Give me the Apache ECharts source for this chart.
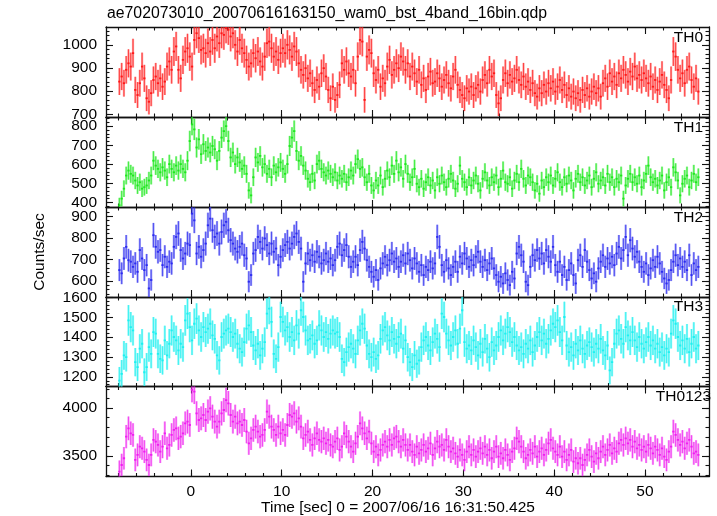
<!DOCTYPE html>
<html><head><meta charset="utf-8">
<script src="https://cdn.jsdelivr.net/npm/echarts@6/dist/echarts.min.js"></script>
<style>html,body{margin:0;padding:0;background:#fff}#c{width:717px;height:516px}</style>
</head><body><div id="c"></div>
<script>
// light-curve bins: start time and bin width (sec)
const binStart = -7.875, binWidth = 0.25;

const th0 = [
841,863,834,892,920,906,964,805,783,834,
906,855,769,754,791,848,863,834,855,819,
841,906,928,892,971,993,892,855,935,971,
985,949,906,1021,1050,1029,978,985,964,1007,
971,1021,985,1036,1007,1050,1043,1072,1065,1036,
1050,1000,971,1021,985,964,935,906,920,964,
942,971,928,906,949,1007,1014,985,949,971,
935,964,985,964,1000,978,949,993,971,920,
892,870,899,855,877,834,805,848,819,877,
899,863,805,769,819,762,783,827,920,892,
928,877,
863,892,834,949,1021,1014,762,
949,978,964,877,848,892,819,855,834,906,935,870,892,920,899,
949,928,892,920,863,906,877,841,892,827,855,805,863,884,834,
841,877,855,819,848,870,834,812,863,892,827,805,783,769,812,
798,819,783,812,827,798,848,870,834,892,863,877,783,747,769,
848,877,834,870,841,855,892,848,827,863,819,841,805,834,791,
776,812,791,827,798,834,812,841,798,819,848,805,827,783,812,
776,798,769,791,762,805,783,812,776,798,819,791,812,776,834,
855,819,877,841,863,827,877,855,892,870,841,884,863,906,855,
870,848,877,855,834,863,819,848,805,841,870,827,805,769,848,
971,949,892,855,877,834,892,906,848,819,855,798
];

const th1 = [
385,420,472,541,567,550,541,515,489,506,
472,480,489,515,541,619,593,576,558,584,
567,532,601,576,558,593,567,601,576,558,
619,722,809,783,688,731,653,705,670,688,
662,696,679,619,670,740,774,800,722,636,
662,601,636,610,576,593,550,463,437,532,
636,610,644,584,601,550,576,532,593,558,
584,610,576,550,601,696,740,774,670,619,
644,593,567,524,506,550,515,601,619,576,
558,541,567,550,532,558,515,541,524,550,
506,532,
567,541,601,627,576,584,532,506,550,489,
463,515,489,541,480,524,567,532,593,550,
619,558,584,524,601,550,506,532,576,498,
480,524,472,506,532,489,515,463,532,498,
541,506,480,524,550,515,472,498,593,524,
506,480,532,489,515,541,498,463,524,558,
515,489,532,506,541,480,524,567,506,498,
532,472,515,550,506,576,524,489,541,532,
506,463,498,446,515,480,532,506,541,489,
524,558,506,480,532,498,541,515,463,524,
550,506,532,489,515,541,480,524,558,498,
515,532,489,550,506,532,480,524,506,541,
420,489,524,550,506,532,498,541,480,515,
550,593,532,506,524,489,515,541,463,506,
532,480,584,558,515,437,498,524,541,480,
515,550,506,532
];

const th2 = [
650,635,704,758,696,689,665,681,642,743,
704,650,673,565,604,812,758,735,743,673,
712,665,689,681,758,804,820,743,704,727,
773,766,912,881,727,758,712,743,773,858,
889,835,804,820,773,827,858,874,835,789,
773,750,735,758,773,719,704,596,627,727,
743,804,781,750,797,766,727,773,735,750,
673,712,743,766,781,750,773,804,820,781,
750,596,681,727,696,719,689,735,712,681,
696,727,689,704,673,696,758,773,719,743,
766,712,
665,689,712,673,743,781,750,696,665,642,
619,650,604,658,681,712,673,696,727,689,
704,665,689,719,681,727,696,658,704,681,
642,673,627,665,650,689,658,681,804,758,
673,642,696,658,627,665,689,642,712,681,
727,704,665,696,673,712,735,689,665,696,
650,681,704,658,627,596,619,588,635,604,
580,642,611,727,758,719,689,596,580,665,
719,696,743,704,727,681,743,712,689,758,
673,642,689,627,665,604,650,681,627,588,
696,719,665,743,689,650,611,635,596,658,
689,719,665,704,681,712,673,727,758,704,
743,804,719,789,750,712,735,689,665,642,
681,627,658,696,665,712,681,642,611,588,
604,650,689,719,673,704,665,689,650,719,
627,681,650,665
];

const th3 = [
1181,1215,1308,1299,1485,1451,1434,1274,1249,1342,
1367,1223,1249,1350,1316,1426,1418,1316,1291,1283,
1384,1308,1367,1434,1401,1384,1333,1367,1350,1485,
1519,1451,1384,1468,1494,1434,1401,1451,1426,1443,
1468,1409,1392,1308,1283,1401,1418,1434,1443,1426,
1401,1418,1367,1342,1325,1375,1443,1460,1426,1358,
1333,1367,1308,1342,1375,1519,1544,1477,1316,1291,
1350,1502,1477,1434,1451,1401,1426,1384,1460,1418,
1536,1502,1434,1384,1392,1409,1367,1384,1460,1434,
1401,1426,1392,1418,1434,1418,1426,1401,1291,1274,
1325,1350,
1367,1342,1316,1384,1434,1468,1443,1358,1316,1299,
1325,1291,1308,1392,1434,1451,1409,1384,1426,1392,
1367,1401,1418,1342,1384,1299,1274,1249,1308,1266,
1283,1350,1384,1401,1358,1333,1375,1418,1392,1350,
1519,1502,1418,1384,1358,1401,1434,1367,1443,1536,
1375,1342,1358,1333,1384,1350,1308,1367,1325,1392,
1342,1299,1375,1333,1358,1401,1434,1384,1418,1451,
1426,1375,1401,1358,1333,1350,1316,1367,1342,1384,
1325,1358,1401,1426,1384,1418,1367,1392,1434,1468,
1451,1485,1426,1384,1502,1358,1325,1350,1308,1367,
1333,1384,1342,1316,1358,1375,1350,1325,1367,1342,
1392,1333,1308,1358,1232,1274,1367,1418,1434,1392,
1367,1451,1409,1384,1426,1384,1350,1401,1367,1342,
1375,1401,1358,1384,1342,1367,1325,1350,1308,1342,
1325,1418,1485,1468,1401,1358,1384,1342,1392,1325,
1367,1401,1342,1358
];

const th0123 = [
3337,3406,3476,3702,3788,3736,3719,3459,3511,3597,
3580,3545,3459,3406,3511,3667,3649,3615,3545,3597,
3736,3580,3615,3719,3771,3788,3684,3702,3736,3840,
3858,3823,4188,4170,3944,3875,3892,3927,3875,3962,
3997,3910,3858,3806,3858,3944,3979,4083,4049,3927,
3858,3910,3840,3858,3823,3875,3754,3632,3684,3771,
3806,3754,3702,3719,3771,3962,3910,3806,3771,3719,
3806,3736,3771,3719,3823,3927,3910,3944,3858,3892,
3806,3684,3719,3754,3667,3615,3684,3736,3667,3649,
3684,3632,3667,3615,3597,3649,3684,3563,3597,3736,
3702,3649,
3597,3545,3632,3702,3840,3788,3736,3684,3754,3632,
3545,3597,3511,3563,3615,3649,3597,3667,3615,3684,
3702,3649,3597,3667,3615,3563,3615,3545,3511,3597,
3528,3563,3615,3545,3580,3632,3511,3580,3649,3597,
3615,3563,3667,3597,3545,3580,3528,3493,3563,3511,
3459,3545,3597,3511,3563,3493,3545,3580,3528,3597,
3511,3563,3476,3545,3597,3493,3528,3476,3563,3511,
3459,3545,3580,3684,3649,3597,3545,3476,3511,3563,
3528,3597,3493,3545,3580,3511,3563,3632,3667,3580,
3545,3511,3597,3493,3545,3459,3511,3563,3441,3476,
3424,3476,3406,3459,3511,3563,3493,3441,3528,3476,
3545,3597,3511,3563,3615,3528,3580,3545,3632,3667,
3615,3684,3632,3667,3597,3649,3580,3615,3563,3597,
3545,3615,3580,3528,3597,3563,3511,3580,3493,3459,
3545,3597,3754,3719,3667,3615,3649,3580,3632,3667,
3597,3528,3545,3511
];

const panelNames = ['TH0', 'TH1', 'TH2', 'TH3', 'TH0123'];
const panelData = [th0, th1, th2, th3, th0123];
const yMin = [688, 376, 525, 1151, 3286];
const yMax = [1077, 848, 943, 1603, 4224];
const yMajorTicks = [
  [700, 800, 900, 1000],
  [400, 500, 600, 700, 800],
  [600, 700, 800, 900],
  [1200, 1300, 1400, 1500, 1600],
  [3500, 4000]
];
const yMinorStep = [20, 20, 20, 20, 100];
const xMajorTicks = [0, 10, 20, 30, 40, 50];
const xMinorStep = 2;
const X_MIN = -9.35, X_MAX = 57.05;

const titleText = 'ae702073010_20070616163150_wam0_bst_4band_16bin.qdp';
const xAxisTitle = 'Time [sec] 0 = 2007/06/16 16:31:50.425';
const yAxisTitle = 'Counts/sec';

const solidColors = ['rgba(255,20,20,0.95)', 'rgba(25,232,25,0.95)', 'rgba(40,40,240,0.95)', 'rgba(25,240,240,0.95)', 'rgba(240,25,240,0.95)'];
const lightColors = ['rgba(255,60,60,0.5)', 'rgba(50,235,50,0.5)', 'rgba(60,60,240,0.5)', 'rgba(50,240,240,0.55)', 'rgba(240,60,240,0.5)'];

const FONT = 'Liberation Sans, Arial, Helvetica, sans-serif';
const tops = [27, 117, 207, 297, 386.5];
const heights = [90, 90, 90, 89.5, 90];

function stepList(lo, hi, step) {
  const out = [];
  for (let v = Math.ceil(lo / step) * step; v <= hi; v += step) out.push(v);
  return out;
}
const xMinorTicks = stepList(X_MIN, X_MAX, xMinorStep);

const grids = [], xAxes = [], yAxes = [], series = [];
const frameLine = { show: true, onZero: false, lineStyle: { color: '#111', width: 1.3 } };
const tickStyle = { color: '#111', width: 1.1 };

for (let g = 0; g < 5; g++) {
  grids.push({ left: 106, right: 8, top: tops[g], height: heights[g], outerBoundsMode: 'none' });
  const xc = { type: 'value', gridIndex: g, min: X_MIN, max: X_MAX, splitLine: { show: false }, axisLabel: { show: false } };
  const xi = xAxes.length;
  xAxes.push(Object.assign({}, xc, {
    position: 'bottom', axisLine: frameLine,
    axisTick: { show: true, inside: true, length: 7, customValues: xMajorTicks, lineStyle: tickStyle },
    axisLabel: { show: g === 4, customValues: xMajorTicks, margin: 7, color: '#000', fontSize: 15.5, fontFamily: FONT, formatter: v => String(v) }
  }));
  xAxes.push(Object.assign({}, xc, {
    position: 'top', axisLine: frameLine,
    axisTick: { show: true, inside: true, length: 7, customValues: xMajorTicks, lineStyle: tickStyle }
  }));
  xAxes.push(Object.assign({}, xc, {
    position: 'bottom', axisLine: { show: false, onZero: false },
    axisTick: { show: true, inside: true, length: 3.5, customValues: xMinorTicks, lineStyle: tickStyle }
  }));
  xAxes.push(Object.assign({}, xc, {
    position: 'top', axisLine: { show: false, onZero: false },
    axisTick: { show: true, inside: true, length: 3.5, customValues: xMinorTicks, lineStyle: tickStyle }
  }));

  const yMinor = stepList(yMin[g], yMax[g], yMinorStep[g]);
  const yc = { type: 'value', gridIndex: g, min: yMin[g], max: yMax[g], splitLine: { show: false }, axisLabel: { show: false } };
  const yi = yAxes.length;
  yAxes.push(Object.assign({}, yc, {
    position: 'left', axisLine: frameLine,
    axisTick: { show: true, inside: true, length: 7, customValues: yMajorTicks[g], lineStyle: tickStyle },
    axisLabel: { show: true, customValues: yMajorTicks[g], margin: 9, color: '#000', fontSize: 15.5, fontFamily: FONT, formatter: v => String(v) }
  }));
  yAxes.push(Object.assign({}, yc, {
    position: 'right', axisLine: frameLine,
    axisTick: { show: true, inside: true, length: 7, customValues: yMajorTicks[g], lineStyle: tickStyle }
  }));
  yAxes.push(Object.assign({}, yc, {
    position: 'left', axisLine: { show: false, onZero: false },
    axisTick: { show: true, inside: true, length: 3.5, customValues: yMinor, lineStyle: tickStyle }
  }));
  yAxes.push(Object.assign({}, yc, {
    position: 'right', axisLine: { show: false, onZero: false },
    axisTick: { show: true, inside: true, length: 3.5, customValues: yMinor, lineStyle: tickStyle }
  }));

  const vals = panelData[g];
  const data = vals.map((v, i) => [binStart + i * binWidth, v, Math.sqrt(v / binWidth)]);
  const solid = solidColors[g], light = lightColors[g];
  series.push({
    type: 'custom', name: panelNames[g], xAxisIndex: xi, yAxisIndex: yi, clip: true,
    silent: true, animation: false, encode: { x: 0, y: 1 }, data: data,
    renderItem: function (params, api) {
      const t = api.value(0), v = api.value(1), e = api.value(2);
      const a = api.coord([t - binWidth / 2, v]);
      const b = api.coord([t + binWidth / 2, v]);
      const up = api.coord([t, v + e]);
      const dn = api.coord([t, v - e]);
      return {
        type: 'group', children: [
          { type: 'line', shape: { x1: up[0], y1: up[1], x2: dn[0], y2: dn[1] }, style: { stroke: light, lineWidth: 2.2 } },
          { type: 'line', shape: { x1: up[0], y1: up[1], x2: dn[0], y2: dn[1] }, style: { stroke: solid, lineWidth: 0.7 } },
          { type: 'line', shape: { x1: a[0], y1: a[1], x2: b[0], y2: b[1] }, style: { stroke: solid, lineWidth: 1.8 } }
        ]
      };
    }
  });
}

const labelX = [703, 703, 703, 703, 711];
const labelY = [37.5, 127.5, 217.5, 307, 397];
const graphics = [
  { type: 'text', x: 107, y: 14, style: { text: titleText, font: '15.8px ' + FONT, fill: '#000', textAlign: 'left', textVerticalAlign: 'middle' } },
  { type: 'text', x: 398, y: 508, style: { text: xAxisTitle, font: '15.5px ' + FONT, fill: '#000', textAlign: 'center', textVerticalAlign: 'middle' } },
  { type: 'text', x: 40, y: 252, rotation: Math.PI / 2, style: { text: yAxisTitle, font: '15.5px ' + FONT, fill: '#000', textAlign: 'center', textVerticalAlign: 'middle' } }
];
for (let g = 0; g < 5; g++) {
  graphics.push({ type: 'text', x: labelX[g], y: labelY[g], z: 100, style: { text: panelNames[g], font: '15.5px ' + FONT, fill: '#000', textAlign: 'right', textVerticalAlign: 'middle' } });
}

const chart = echarts.init(document.getElementById('c'), null, { renderer: 'canvas' });
chart.setOption({
  backgroundColor: '#fff',
  animation: false,
  grid: grids,
  xAxis: xAxes,
  yAxis: yAxes,
  series: series,
  graphic: graphics
});
</script>
</body></html>
